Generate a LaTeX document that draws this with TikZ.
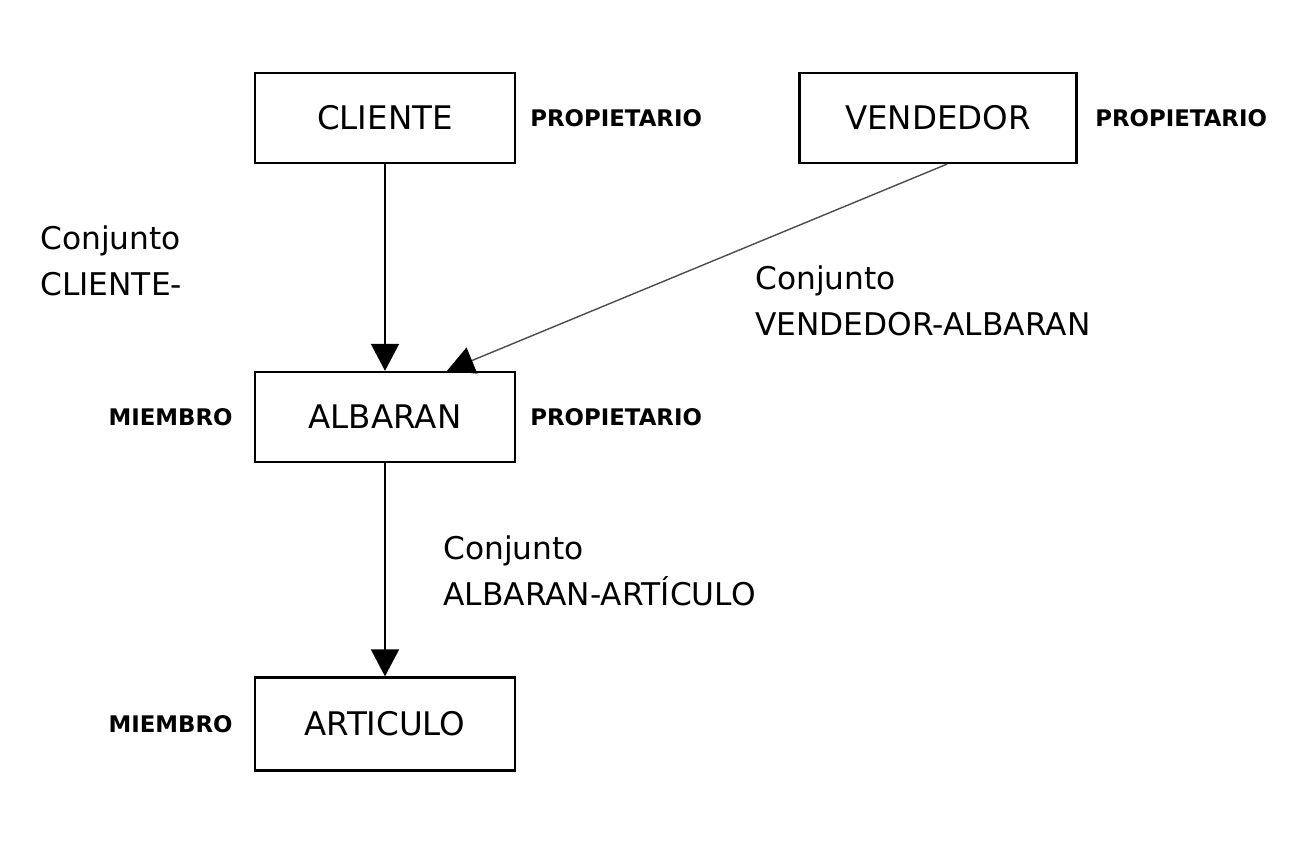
\documentclass[tikz,border=0pt]{standalone}
\usepackage{fontspec}
\setmainfont{DejaVu Sans}
\usetikzlibrary{arrows.meta,calc}

\begin{document}
\begin{tikzpicture}[>={Triangle[width=0.56cm,length=0.54cm,color=black]},
    caja/.style={draw, line width=1.3pt, minimum width=5.2cm, minimum height=1.8cm,
      font=\fontsize{18.5}{22}\selectfont},
    papel/.style={inner sep=0pt, font=\bfseries\fontsize{13}{15}\selectfont},
    conjunto/.style={inner sep=0pt, anchor=north west, align=left,
      font=\fontsize{17.8}{26.6}\selectfont},
    flecha/.style={->, line width=1pt}]
  % one unit = one pixel of the 1296x864 sheet, y pointing down
  \begin{scope}[x=0.02cm, y=-0.02cm]
    \useasboundingbox (0,0) rectangle (1296,864);
    % record types
    \node[caja] (cliente) at (385,118) {CLIENTE};
    \node[caja, minimum width=5.54cm] (vendedor) at (938,118) {VENDEDOR};
    \node[caja] (albaran) at (385,417) {ALBARAN};
    \node[caja, minimum height=1.86cm] (articulo) at (385,724) {ARTICULO};
    % owner / member roles
    \node[papel, anchor=west] (propCliente) at (530,118) {PROPIETARIO};
    \node[papel, anchor=west] (propVendedor) at (1095,118) {PROPIETARIO};
    \node[papel, anchor=west] (propAlbaran) at (530,417) {PROPIETARIO};
    \node[papel, anchor=east] (miemAlbaran) at (233,417) {MIEMBRO};
    \node[papel, anchor=east] (miemArticulo) at (233,724) {MIEMBRO};
    % set names
    \node[conjunto] (cjCliente) at (40,225) {Conjunto\\CLIENTE-};
    \node[conjunto] (cjVendedor) at (755,265) {Conjunto\\VENDEDOR-ALBARAN};
    \node[conjunto] (cjAlbaran) at (443,535) {Conjunto\\ALBARAN-ARTÍCULO};
    % sets: owner -> member
    \draw[flecha] (cliente) -- (albaran);
    \draw[flecha, line width=0.8pt, black!70] ($(vendedor.south)+(9,0)$) -- ($(albaran.north)+(62,0)$);
    \draw[flecha] (albaran) -- (articulo);
  \end{scope}
\end{tikzpicture}
\end{document}
